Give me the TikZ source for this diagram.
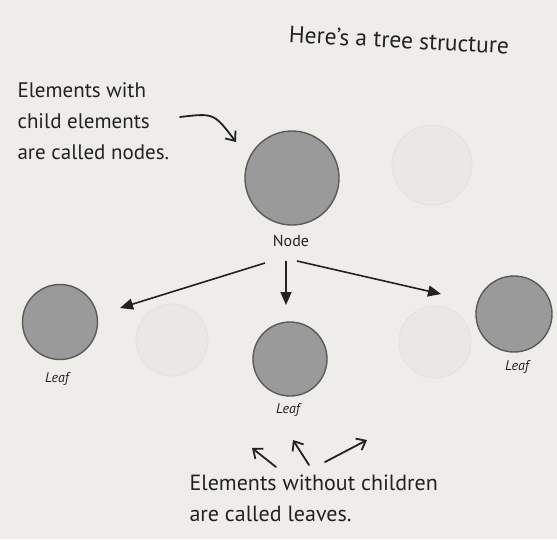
\documentclass[tikz,border=0pt]{standalone}
\usepackage{fontspec}
\setmainfont{PT Sans}
\usetikzlibrary{arrows.meta}
\definecolor{paper}{HTML}{EEEDE9}
\definecolor{ink}{HTML}{222222}
\definecolor{ballfill}{HTML}{9A9A9A}
\definecolor{ballline}{HTML}{5A5A5A}
\tikzset{
  ball/.style={circle, fill=ballfill, draw=ballline, line width=1.4pt, inner sep=0pt},
  ghost/.style={circle, draw=paper!95!black, fill=paper!98!black, line width=0.8pt, inner sep=0pt},
  hand/.style={text=ink, font=\fontsize{21}{31}\selectfont, align=left},
  tag/.style={text=ink, font=\itshape\fontsize{14}{16}\selectfont},
  link/.style={draw=ink, line width=1.6pt, -{Triangle[length=13pt,width=11pt]}},
  note/.style={draw=ink, line width=1.8pt, line cap=round, -{Straight Barb[length=8pt,width=13pt]}}
}
\begin{document}
\begin{tikzpicture}[x=1pt,y=-1pt]
\fill[paper] (0,0) rectangle (557,539);
\useasboundingbox (0,0) rectangle (557,539);
% faint show-through circles
\node[ghost, minimum size=72pt] (g1) at (172,340) {};
\node[ghost, minimum size=72pt] (g2) at (435,342) {};
\node[ghost, minimum size=80pt] (g3) at (432,165) {};
% title
\node[hand, font=\fontsize{23.5}{27}\selectfont, rotate=-3] (title) at (399,40) {Here's a tree structure};
% root
\node[ball, minimum size=94pt] (root) at (292,178) {};
\node[tag, font=\fontsize{16}{18}\selectfont] (rootlbl) at (291,241) {Node};
% leaves
\node[ball, minimum size=75pt] (leafL) at (60,322) {};
\node[tag] (leafLlbl) at (57,379) {Leaf};
\node[ball, minimum size=74pt] (leafM) at (290,359) {};
\node[tag] (leafMlbl) at (288,410) {Leaf};
\node[ball, minimum size=76pt] (leafR) at (514,314) {};
\node[tag] (leafRlbl) at (517,367) {Leaf};
% connectors
\coordinate (sL) at (265,263);
\coordinate (eL) at (120,308);
\coordinate (sM) at (286,261);
\coordinate (eM) at (286,305);
\coordinate (sR) at (297,261);
\coordinate (eR) at (441,294);
\draw[link] (sL) -- (eL);
\draw[link] (sM) -- (eM);
\draw[link] (sR) -- (eR);
% node note
\node[hand, anchor=north west] (nodenote) at (14,79) {Elements with\\child elements\\are called nodes.};
\coordinate (n1) at (180,117);
\coordinate (n2) at (236,142);
\draw[note] (n1) .. controls (214,113) .. (n2);
% leaves note
\node[hand, font=\fontsize{22}{31}\selectfont, anchor=north west] (leafnote) at (186,471) {Elements without children\\are called leaves.};
\coordinate (a1s) at (276,467);
\coordinate (a1e) at (252,448);
\coordinate (a2s) at (309,465);
\coordinate (a2e) at (293,440);
\coordinate (a3s) at (325,462);
\coordinate (a3e) at (367,440);
\draw[note] (a1s) -- (a1e);
\draw[note] (a2s) -- (a2e);
\draw[note] (a3s) -- (a3e);
\end{tikzpicture}
\end{document}
